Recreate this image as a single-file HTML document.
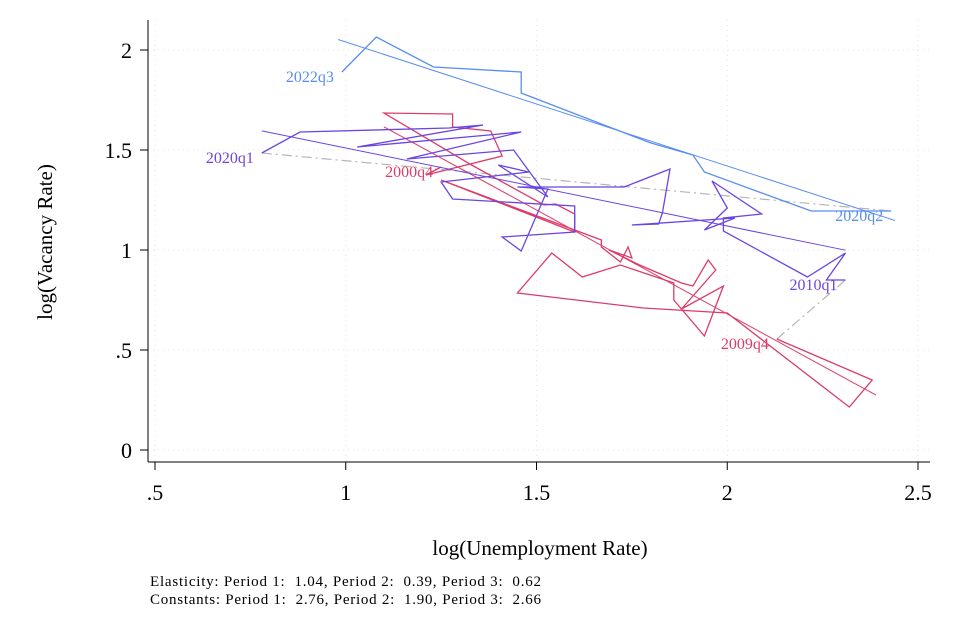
<!DOCTYPE html>
<html><head><meta charset="utf-8"><style>
body{margin:0;background:#fff;}
svg{display:block;font-family:"Liberation Serif",serif;}
.pre{white-space:pre;}
</style></head><body>
<svg id="chart" width="953" height="635" viewBox="0 0 953 635">
<rect width="953" height="635" fill="#fff"/>
<g id="grid"></g><g id="axes"></g><g id="series"></g><g id="labels"></g>
<text x="540" y="555" font-size="21" text-anchor="middle">log(Unemployment Rate)</text>
<text transform="translate(52,242) rotate(-90)" font-size="21" text-anchor="middle">log(Vacancy Rate)</text>
<text class="pre" xml:space="preserve" x="150" y="586" font-size="15" textLength="391" lengthAdjust="spacing">Elasticity: Period 1:  1.04, Period 2:  0.39, Period 3:  0.62</text>
<text class="pre" xml:space="preserve" x="150" y="604" font-size="15" textLength="391" lengthAdjust="spacing">Constants: Period 1:  2.76, Period 2:  1.90, Period 3:  2.66</text>
</svg>
<script>
const xTicks=[0.5,1,1.5,2,2.5];
const xTickLabels=[".5","1","1.5","2","2.5"];
const yTicks=[0,0.5,1,1.5,2];
const yTickLabels=["0",".5","1","1.5","2"];
const p1U=[1.25,1.21,1.41,1.38,1.28,1.28,1.10,1.33,1.52,1.55,1.60,1.60,1.25,1.67,1.67,1.72,1.74,1.75,1.69,1.77,1.88,1.91,1.95,1.97,1.88,1.99,1.94,1.86,1.86,1.72,1.62,1.54,1.45,1.78,2.00,2.32,2.38,2.13];
const p1V=[1.415,1.375,1.47,1.595,1.615,1.68,1.685,1.425,1.225,1.23,1.18,1.09,1.35,1.05,1.015,0.94,1.015,0.96,1.00,0.925,0.835,0.82,0.95,0.90,0.705,0.82,0.57,0.75,0.835,0.925,0.865,0.985,0.785,0.71,0.685,0.215,0.35,0.555];
const p2U=[2.31,2.26,2.31,2.21,1.99,1.99,2.09,1.96,2.00,1.94,2.02,1.75,1.82,1.83,1.85,1.73,1.45,1.53,1.46,1.41,1.60,1.60,1.28,1.25,1.48,1.40,1.53,1.44,1.16,1.46,1.03,1.36,1.27,0.88,0.78];
const p2V=[0.85,0.85,0.985,0.865,1.095,1.16,1.18,1.345,1.21,1.10,1.16,1.125,1.13,1.185,1.405,1.315,1.315,1.305,0.995,1.065,1.09,1.22,1.255,1.34,1.39,1.425,1.265,1.50,1.455,1.59,1.515,1.625,1.61,1.59,1.485];
const p3U=[0.99,1.08,1.23,1.46,1.46,1.67,1.80,1.91,1.94,2.22,2.43];
const p3V=[1.89,2.065,1.915,1.89,1.785,1.63,1.535,1.475,1.39,1.195,1.195];
const elasticity=[1.04,0.39,0.62];
const constants=[2.76,1.90,2.66];
const fitRange=[[1.10,2.39],[0.78,2.31],[0.98,2.44]];
const colors=["#dc3c6a","#6b45e2","#5a8df0"];
const endLabels=[["2000q4","2009q4"],["2010q1","2020q1"],["2020q2","2022q3"]];

const NS="http://www.w3.org/2000/svg";
const X0=155,XS=381.5,Y0=450,YS=200;
function xs(v){return X0+(v-0.5)*XS;}
function ys(v){return Y0-v*YS;}
function mk(t,a,parent){const e=document.createElementNS(NS,t);for(const k in a)e.setAttribute(k,a[k]);parent.appendChild(e);return e;}
const grid=document.getElementById('grid'),axes=document.getElementById('axes'),ser=document.getElementById('series'),lab=document.getElementById('labels');

xTicks.forEach((t,i)=>{
  const g=mk('line',{x1:xs(t),x2:xs(t),y1:20,y2:462,stroke:'#e4e4e4','stroke-dasharray':'1 4'},grid);
  
  
  const tk=mk('line',{x1:xs(t),x2:xs(t),y1:462,y2:470,stroke:'#000'},axes);
  
  
  const tx=mk('text',{x:xs(t),y:500,'font-size':22,'text-anchor':'middle'},axes);
  tx.textContent=xTickLabels[i];
  
  
});
yTicks.forEach((t,i)=>{
  const g=mk('line',{x1:148,x2:930,y1:ys(t),y2:ys(t),stroke:'#e4e4e4','stroke-dasharray':'1 4'},grid);
  
  
  const tk=mk('line',{x1:140,x2:148,y1:ys(t),y2:ys(t),stroke:'#000'},axes);
  
  
  const tx=mk('text',{x:132,y:ys(t)+8,'font-size':22,'text-anchor':'end'},axes);
  tx.textContent=yTickLabels[i];
  
  
});
const ya=mk('line',{x1:148,x2:148,y1:20,y2:462,stroke:'#000'},axes);


const xa=mk('line',{x1:148,x2:930,y1:462,y2:462,stroke:'#000'},axes);



const conn=[[p1U[p1U.length-1],p1V[p1V.length-1],p2U[0],p2V[0]],[p2U[p2U.length-1],p2V[p2V.length-1],p3U[p3U.length-1],p3V[p3V.length-1]]];
conn.forEach(c=>{
  const l=mk('line',{x1:xs(c[0]),y1:ys(c[1]),x2:xs(c[2]),y2:ys(c[3]),stroke:'#b5b5b5','stroke-width':1.2,'stroke-dasharray':'10 4 2 4'},ser);
  
  
});
const allU=[p1U,p2U,p3U],allV=[p1V,p2V,p3V];
allU.forEach((U,k)=>{
  const V=allV[k];
  const pts=U.map((u,i)=>xs(u).toFixed(1)+','+ys(V[i]).toFixed(1)).join(' ');
  const pl=mk('polyline',{points:pts,fill:'none',stroke:colors[k],'stroke-width':1.3,'stroke-linejoin':'miter'},ser);
  
  
  const r=fitRange[k];
  const f=mk('line',{x1:xs(r[0]),y1:ys(constants[k]-elasticity[k]*r[0]),x2:xs(r[1]),y2:ys(constants[k]-elasticity[k]*r[1]),stroke:colors[k],'stroke-width':1},ser);
  
  
});
const lp=[[p1U[0],p1V[0],endLabels[0][0]],[p1U[p1U.length-1],p1V[p1V.length-1],endLabels[0][1]],[p2U[0],p2V[0],endLabels[1][0]],[p2U[p2U.length-1],p2V[p2V.length-1],endLabels[1][1]],[p3U[p3U.length-1],p3V[p3V.length-1],endLabels[2][0]],[p3U[0],p3V[0],endLabels[2][1]]];
const lc=[colors[0],colors[0],colors[1],colors[1],colors[2],colors[2]];
lp.forEach((p,i)=>{
  const t=mk('text',{x:xs(p[0])-8,y:ys(p[1])+10,'font-size':16,'text-anchor':'end',fill:lc[i]},lab);
  t.textContent=p[2];
  
  
});
</script>
</body></html>
